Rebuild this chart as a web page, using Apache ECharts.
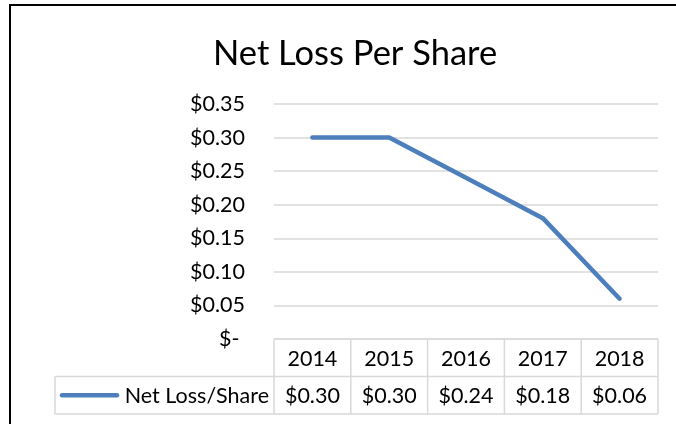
<!DOCTYPE html>
<html lang="en">
<head>
  <meta charset="UTF-8" />
  <title>Net Loss Per Share</title>
  <script src="https://cdn.jsdelivr.net/npm/echarts@6/dist/echarts.min.js"></script>
  <style>
    body { margin: 0; background: #fff; }
    #chart { width: 676px; height: 424px; }
  </style>
</head>
<body>
  <div id="chart"></div>
  <script>
    // data
    const years = ['2014', '2015', '2016', '2017', '2018'];
    const netLoss = [0.30, 0.30, 0.24, 0.18, 0.06];
    const seriesName = 'Net Loss/Share';

    const FONT = 'Lato';
    const LINE_COLOR = '#4e7fbd';
    const GRID_COLOR = '#d9d9d9';

    const chart = echarts.init(document.getElementById('chart'));

    const money = v => v === 0 ? '$- ' : '$' + v.toFixed(2);

    chart.setOption({
      backgroundColor: '#fff',
      animation: false,
      title: {
        text: 'Net Loss Per Share',
        left: 208,
        top: 31,
        textStyle: { fontFamily: FONT, fontSize: 34.5, fontWeight: 'normal', color: '#000' }
      },
      grid: { left: 274, right: 18, top: 104, bottom: 85 },
      xAxis: {
        type: 'category',
        data: years,
        axisLine: { show: false },
        axisTick: { show: false },
        axisLabel: { show: false }
      },
      yAxis: {
        type: 'value',
        min: 0,
        max: 0.35,
        interval: 0.05,
        axisLine: { show: false },
        axisTick: { show: false },
        axisLabel: {
          margin: 29,
          formatter: money,
          fontFamily: FONT,
          fontSize: 21.5,
          color: '#000'
        },
        splitLine: { lineStyle: { color: GRID_COLOR, width: 1.5 } }
      },
      series: [{
        name: seriesName,
        type: 'line',
        data: netLoss,
        symbol: 'none',
        lineStyle: { color: LINE_COLOR, width: 4.5, cap: 'round', join: 'round' }
      }]
    });

    // data table under the plot, placed from the axis scale
    function buildTable() {
      const g = [];
      const x0 = chart.convertToPixel({ xAxisIndex: 0 }, 0);
      const x1 = chart.convertToPixel({ xAxisIndex: 0 }, 1);
      const band = x1 - x0;
      const left = x0 - band / 2;
      const right = left + band * years.length;
      const top = chart.convertToPixel({ yAxisIndex: 0 }, 0);
      const rowH = 37.5;
      const legendLeft = 55;
      const border = { stroke: GRID_COLOR, lineWidth: 1.5 };
      const txt = { fontFamily: FONT, fontSize: 21.5, fill: '#000', align: 'center', verticalAlign: 'middle' };

      // horizontal lines
      g.push({ type: 'line', shape: { x1: left, y1: top, x2: right, y2: top }, style: border });
      g.push({ type: 'line', shape: { x1: legendLeft, y1: top + rowH, x2: right, y2: top + rowH }, style: border });
      g.push({ type: 'line', shape: { x1: legendLeft, y1: top + 2 * rowH, x2: right, y2: top + 2 * rowH }, style: border });
      // vertical lines
      g.push({ type: 'line', shape: { x1: legendLeft, y1: top + rowH, x2: legendLeft, y2: top + 2 * rowH }, style: border });
      for (let i = 0; i <= years.length; i++) {
        const x = left + band * i;
        g.push({ type: 'line', shape: { x1: x, y1: top, x2: x, y2: top + 2 * rowH }, style: border });
      }
      years.forEach((y, i) => {
        const cx = chart.convertToPixel({ xAxisIndex: 0 }, i);
        g.push({ type: 'text', x: cx, y: top + rowH / 2 + 1, style: Object.assign({ text: y }, txt) });
        g.push({ type: 'text', x: cx, y: top + rowH * 1.5 + 1, style: Object.assign({ text: money(netLoss[i]) }, txt) });
      });
      // legend key + name
      const ly = top + rowH * 1.5;
      g.push({ type: 'line', shape: { x1: 62, y1: ly, x2: 117, y2: ly },
        style: { stroke: LINE_COLOR, lineWidth: 4.5, lineCap: 'round' } });
      g.push({ type: 'text', x: left - 5, y: ly + 1,
        style: Object.assign({}, txt, { text: seriesName, align: 'right' }) });

      // outer frame of the chart object
      g.push({ type: 'line', shape: { x1: 9, y1: 5, x2: 676, y2: 5 }, style: { stroke: '#000', lineWidth: 2 } });
      g.push({ type: 'line', shape: { x1: 10, y1: 5, x2: 10, y2: 424 }, style: { stroke: '#000', lineWidth: 2 } });

      chart.setOption({ graphic: { elements: g } });
    }
    buildTable();
  </script>
</body>
</html>
